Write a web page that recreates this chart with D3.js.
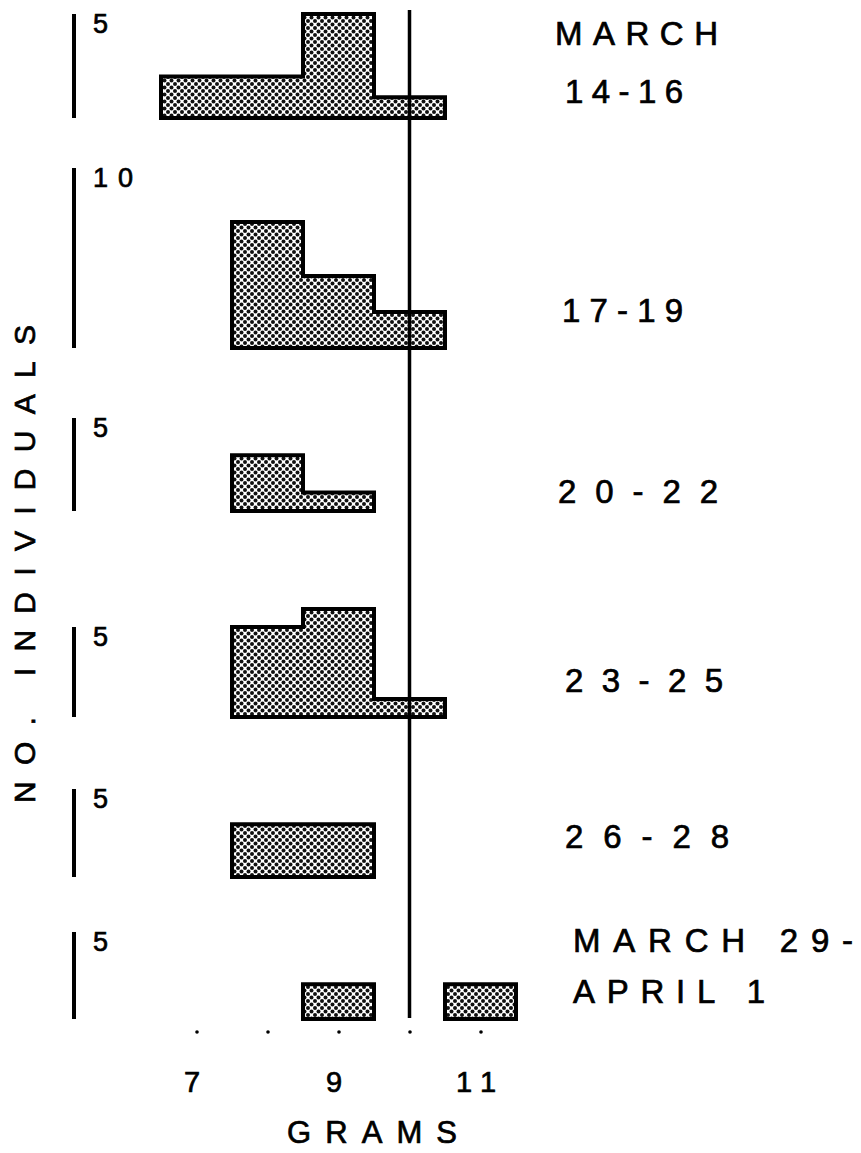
<!DOCTYPE html>
<html>
<head>
<meta charset="utf-8">
<script src="https://cdn.jsdelivr.net/npm/d3@7"></script>
<style>
  body { margin: 0; background: #fff; }
  svg { display: block; font-family: "Liberation Sans", Arial, sans-serif; }
  svg text { stroke: #000; stroke-width: 0.7px; fill: #000; }
</style>
</head>
<body>
<div id="chart"></div>
<script>
'use strict';

// histogram bins (grams), one row of counts per sampling period
const binEdges = [6.5, 7.5, 8.5, 9.5, 10.5, 11.5];
const periodLines = [
  ['MARCH', '14-16'],
  ['17-19'],
  ['20-22'],
  ['23-25'],
  ['26-28'],
  ['MARCH 29-', 'APRIL 1']
];
const counts = [
  [2, 2, 5, 1, 0],
  [0, 7, 4, 2, 0],
  [0, 3, 1, 0, 0],
  [0, 5, 6, 1, 0],
  [0, 3, 3, 0, 0],
  [0, 0, 2, 0, 2]
];
const scaleBarValues = [5, 10, 5, 5, 5, 5];
const gramTicks = [7, 8, 9, 10, 11];
const gramLabels = [7, 9, 11];
const referenceGrams = 10;

// layout of each panel: baseline, top of the scale bar, label placement
const panelLayout = [
  { base: 118, top: 14, labels: [{ x: 555, y: 45, w: 163 }, { x: 565, y: 103, w: 118 }] },
  { base: 348, top: 168, labels: [{ x: 562, y: 322, w: 121 }] },
  { base: 511, top: 418, labels: [{ x: 558, y: 503, w: 160 }] },
  { base: 717, top: 627, labels: [{ x: 565, y: 692, w: 158 }] },
  { base: 877, top: 789, labels: [{ x: 565, y: 848, w: 164 }] },
  { base: 1019, top: 932, labels: [{ x: 573, y: 952, w: 280 }, { x: 573, y: 1003, w: 192 }] }
];

const width = 861;
const height = 1153;

const svg = d3.select('#chart').append('svg')
  .attr('width', width)
  .attr('height', height);

svg.append('rect')
  .attr('width', width)
  .attr('height', height)
  .attr('fill', '#fff');

// halftone dot screen used in the original
const pattern = svg.append('defs').append('pattern')
  .attr('id', 'dots')
  .attr('patternUnits', 'userSpaceOnUse')
  .attr('width', 7)
  .attr('height', 7);
pattern.append('rect').attr('width', 7).attr('height', 7).attr('fill', '#fff');
pattern.selectAll('circle')
  .data([[0, 0], [7, 0], [0, 7], [7, 7], [3.5, 3.5]])
  .enter().append('circle')
    .attr('cx', (d) => d[0])
    .attr('cy', (d) => d[1])
    .attr('r', 2)
    .attr('fill', '#111');

const x = d3.scaleLinear()
  .domain([binEdges[0], binEdges[binEdges.length - 1]])
  .range([161, 516]);

counts.forEach((row, i) => {
  const layout = panelLayout[i];
  const y = d3.scaleLinear()
    .domain([0, scaleBarValues[i]])
    .range([layout.base, layout.top]);
  const panel = svg.append('g').attr('class', 'panel');

  // split into runs of consecutive non-empty bins
  const runs = [];
  let current = [];
  row.forEach((n, j) => {
    if (n > 0) {
      current.push({ x0: binEdges[j], x1: binEdges[j + 1], n: n });
    } else if (current.length) {
      runs.push(current);
      current = [];
    }
  });
  if (current.length) runs.push(current);

  const area = d3.area()
    .x((d) => x(d[0]))
    .y0(y(0))
    .y1((d) => y(d[1]))
    .curve(d3.curveStepAfter);

  panel.selectAll('path.hist')
    .data(runs)
    .enter().append('path')
      .attr('class', 'hist')
      .attr('d', (run) => {
        const last = run[run.length - 1];
        return area(run.map((b) => [b.x0, b.n]).concat([[last.x1, last.n]]));
      })
      .attr('fill', 'url(#dots)')
      .attr('stroke', '#000')
      .attr('stroke-width', 4)
      .attr('stroke-linejoin', 'miter');

  // scale bar on the left
  panel.append('line')
    .attr('x1', 74).attr('x2', 74)
    .attr('y1', y(0)).attr('y2', y(scaleBarValues[i]))
    .attr('stroke', '#000')
    .attr('stroke-width', 4);

  panel.append('text')
    .attr('x', 93)
    .attr('y', y(scaleBarValues[i]) + 19)
    .attr('font-size', 27)
    .attr('letter-spacing', 10)
    .text(scaleBarValues[i]);

  panel.selectAll('text.period')
    .data(periodLines[i])
    .enter().append('text')
      .attr('class', 'period')
      .attr('x', (d, k) => layout.labels[k].x)
      .attr('y', (d, k) => layout.labels[k].y)
      .attr('textLength', (d, k) => layout.labels[k].w)
      .attr('lengthAdjust', 'spacing')
      .attr('font-size', 33)
      .text((d) => d);
});

// reference weight line
svg.append('line')
  .attr('x1', x(referenceGrams)).attr('x2', x(referenceGrams))
  .attr('y1', 10).attr('y2', 1018)
  .attr('stroke', '#000')
  .attr('stroke-width', 3.5);

// gram axis: dots as ticks, labels on odd grams
const axis = svg.append('g')
  .attr('transform', 'translate(0,1032)')
  .call(d3.axisBottom(x)
    .tickValues(gramTicks)
    .tickSize(0)
    .tickFormat((d) => gramLabels.includes(d) ? d : ''));
axis.select('.domain').remove();
axis.selectAll('.tick').append('circle')
  .attr('r', 1.8)
  .attr('fill', '#000');
axis.selectAll('.tick text')
  .attr('y', 60)
  .attr('dy', 0)
  .attr('font-size', 29)
  .attr('letter-spacing', 10)
  .attr('font-family', '"Liberation Sans", Arial, sans-serif');

svg.append('text')
  .attr('x', 372)
  .attr('y', 1143)
  .attr('text-anchor', 'middle')
  .attr('textLength', 170)
  .attr('lengthAdjust', 'spacing')
  .attr('font-size', 31)
  .text('GRAMS');

svg.append('text')
  .attr('transform', 'translate(35,564) rotate(-90)')
  .attr('text-anchor', 'middle')
  .attr('textLength', 478)
  .attr('lengthAdjust', 'spacing')
  .attr('font-size', 30)
  .text('NO. INDIVIDUALS');
</script>
</body>
</html>
